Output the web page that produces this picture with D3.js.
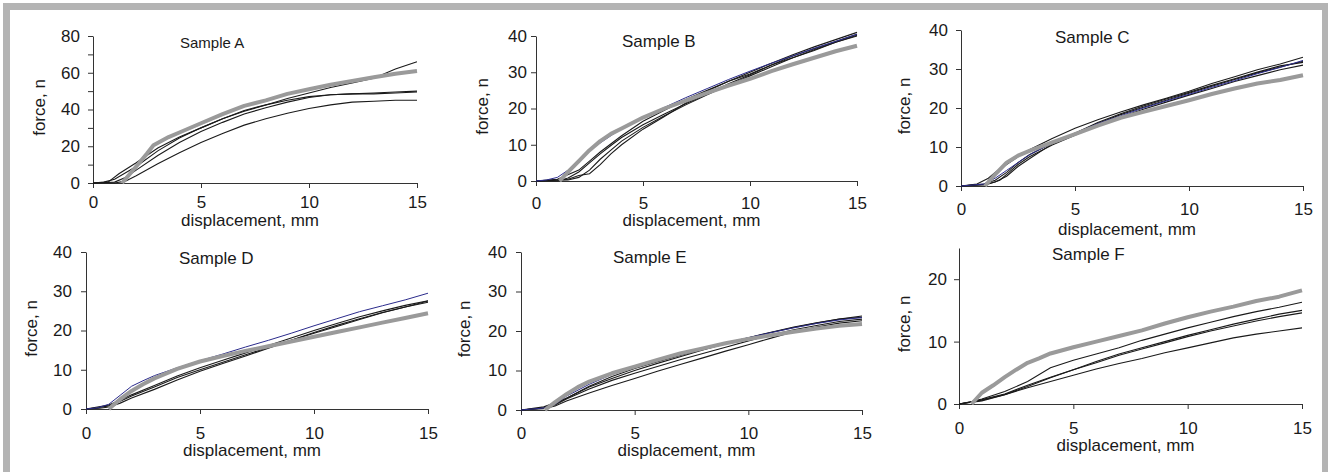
<!DOCTYPE html>
<html>
<head>
<meta charset="utf-8">
<script src="https://cdn.jsdelivr.net/npm/d3@7"></script>
<style>
  body { margin: 0; background: #fff; }
  svg { display: block; font-family: "Liberation Sans", Arial, sans-serif; }
</style>
</head>
<body>
<svg id="chart" width="1328" height="472"></svg>
<script>
// tick values
const xTicks = [0, 5, 10, 15];
const yTicksA = [0, 10, 20, 30, 40, 50, 60, 70, 80];
const yLabelsA = [0, 20, 40, 60, 80];
const yTicks40 = [0, 10, 20, 30, 40];
const yTicksF = [0, 10, 20];

// Sample A
const aGray = [[1.35,0],[2,9],[2.5,16],[2.8,20.5],[3.5,25],[4,27.5],[5,32.5],[6,37.5],[7,42],[8,45],[9,48.5],[10,51],[11,53.5],[12,55.5],[13,57.5],[14,59.5],[15,61]];
const aLine1 = [[0,0],[0.7,0.5],[1.2,5],[2,11],[3,19],[4,25],[5,30],[6,35],[7,39],[8,42.5],[9,46],[10,49],[11,52],[12,54.5],[13,57],[14,62],[15,66]];
const aLine2 = [[0,0],[1,0.5],[1.5,3],[2,7],[3,15],[4,22],[5,28],[6,33],[7,37.5],[8,41],[9,44],[10,46.5],[11,48],[12,48.5],[13,49],[14,49.5],[15,50]];
const aLine3 = [[0,0],[0.5,0.5],[1,2],[2,9],[3,17.5],[4,24.5],[5,30],[6,35],[7,39.5],[8,42.5],[9,45],[10,47],[11,48],[12,48.5],[13,48.5],[14,49],[15,49.5]];
const aLine4 = [[0,0],[1,0],[1.5,1],[2,4],[3,10.5],[4,16.5],[5,22],[6,27],[7,31.5],[8,35],[9,38],[10,40.5],[11,42.5],[12,44],[13,44.5],[14,45],[15,45]];

// Sample B
const bGray = [[1.1,0],[1.5,2.5],[2,5.5],[2.5,8.5],[3,11],[3.5,13],[4,14.5],[5,17.5],[6,20],[7,22.2],[8,24.3],[9,26.3],[10,28.2],[11,30.3],[12,32.2],[13,34],[14,35.8],[15,37.3]];
const bBlue = [[0,0],[0.5,0.3],[1,1],[1.5,3],[2,6],[2.5,8.5],[3,10.5],[3.5,12.5],[4,14.5],[5,17.5],[6,20.3],[7,23],[8,25.5],[9,28],[10,30.3],[11,32.5],[12,34.5],[13,36.6],[14,38.5],[15,40.5]];
const bLine1 = [[0,0],[1,0],[1.5,0.8],[2,2.5],[2.5,5],[3,7.5],[3.5,9.8],[4,12],[5,15.5],[6,18.5],[7,21.3],[8,24],[9,26.8],[10,29.3],[11,32],[12,34.5],[13,36.5],[14,38.5],[15,40.5]];
const bLine2 = [[0,0],[1.5,0.3],[2,1],[2.5,3],[3,6],[3.5,8.5],[4,11],[5,14.8],[6,18],[7,21],[8,23.8],[9,26.5],[10,29],[11,31.5],[12,34],[13,36.2],[14,38.3],[15,40]];
const bLine3 = [[0,0],[1.5,0.5],[2,1.5],[2.5,2],[3,4.5],[3.5,7.5],[4,10],[5,14.3],[6,17.8],[7,21.5],[8,24.8],[9,27.5],[10,30],[11,32.5],[12,34.8],[13,37],[14,39],[15,41]];
const bLine4 = [[0,0],[1,0.5],[2,3],[2.5,5.5],[3,8],[4,12.5],[5,16.5],[6,19.5],[7,22.5],[8,25],[9,27.5],[10,29.5],[11,32],[12,34],[13,36],[14,38.3],[15,40.2]];

// Sample C
const cGray = [[1.05,0],[1.5,3],[2,6],[2.5,7.8],[3,9],[4,11.2],[5,13.3],[6,15.5],[7,17.5],[8,19],[9,20.5],[10,22],[11,23.6],[12,25],[13,26.3],[14,27.2],[15,28.4]];
const cBlue = [[0,0],[1,0.5],[1.5,2],[2,4],[2.5,6],[3,8],[4,11],[5,13.5],[6,16],[7,18],[8,20],[9,21.8],[10,23.5],[11,25.3],[12,27],[13,28.8],[14,30.4],[15,32.2]];
const cLine1 = [[0,0],[0.7,0.5],[1.2,2],[1.5,3.5],[2,5.5],[2.5,7.5],[3,9.3],[4,12.2],[5,14.8],[6,17],[7,19],[8,20.8],[9,22.5],[10,24.3],[11,26.3],[12,28],[13,29.8],[14,31.3],[15,33]];
const cLine2 = [[0,0],[1,0.5],[1.5,1.5],[2,3.5],[2.5,6],[3,8],[4,11],[5,13.5],[6,16],[7,18.3],[8,20.2],[9,22],[10,23.8],[11,25.6],[12,27.3],[13,29],[14,30.5],[15,32]];
const cLine3 = [[0,0],[1.2,0.5],[1.7,1.5],[2,3],[2.5,5.5],[3,7.5],[4,10.5],[5,13],[6,15.5],[7,17.7],[8,19.7],[9,21.5],[10,23.3],[11,25],[12,26.8],[13,28.3],[14,29.8],[15,31]];
const cLine4 = [[0,0],[1,0.3],[1.5,1],[2,2.5],[2.5,5],[3,7],[4,10.8],[5,13.5],[6,16.3],[7,18.5],[8,20.5],[9,22.3],[10,24],[11,25.8],[12,27.5],[13,29.2],[14,30.8],[15,31.7]];

// Sample D
const dGray = [[1,0],[1.5,2.5],[2,4.6],[2.5,6.3],[3,7.8],[4,10.2],[5,12.1],[6,13.5],[7,14.8],[8,16],[9,17.2],[10,18.4],[11,19.6],[12,20.8],[13,22],[14,23.2],[15,24.4]];
const dBlue = [[0,0],[0.5,0.3],[1,1.2],[1.5,3.5],[2,5.8],[2.5,7.2],[3,8.5],[4,10.5],[5,12.3],[6,14],[7,15.8],[8,17.5],[9,19.3],[10,21.2],[11,23],[12,24.8],[13,26.3],[14,27.8],[15,29.5]];
const dLine1 = [[0,0],[0.5,0.3],[1,0.8],[1.5,2],[2,3.3],[3,5.6],[4,8],[5,10],[6,11.9],[7,13.8],[8,15.7],[9,17.5],[10,19.3],[11,21],[12,22.8],[13,24.5],[14,26],[15,27.5]];
const dLine2 = [[0,0],[0.6,0.2],[1,0.5],[1.5,1.5],[2,2.8],[3,5],[4,7.4],[5,9.6],[6,11.6],[7,13.5],[8,15.5],[9,17.5],[10,19.5],[11,21.3],[12,23],[13,24.6],[14,26],[15,27.2]];
const dLine3 = [[0,0],[0.5,0.5],[1,1],[1.5,2.3],[2,3.6],[3,6],[4,8.4],[5,10.5],[6,12.4],[7,14.3],[8,16.2],[9,18.1],[10,20],[11,21.8],[12,23.5],[13,25],[14,26.4],[15,27.6]];

// Sample E
const eGray = [[1.05,0],[1.5,2],[2,4],[2.5,5.8],[3,7.2],[4,9.3],[5,11],[6,12.7],[7,14.3],[8,15.6],[9,16.9],[10,18],[11,18.9],[12,19.8],[13,20.6],[14,21.3],[15,21.8]];
const eBlue = [[0,0],[1,0.5],[1.5,1.5],[2,3.5],[3,6.5],[4,9],[5,10.8],[6,12.5],[7,14],[8,15.5],[9,17],[10,18.3],[11,19.6],[12,20.8],[13,21.9],[14,22.8],[15,23.4]];
const eLine1 = [[0,0],[1,0.8],[1.5,1.8],[2,3],[3,6],[4,8.5],[5,10.5],[6,12.2],[7,13.8],[8,15.3],[9,16.8],[10,18.2],[11,19.6],[12,20.9],[13,22],[14,23],[15,23.8]];
const eLine2 = [[0,0],[1,0.5],[1.5,1.5],[2,3],[3,5.8],[4,8],[5,10],[6,11.8],[7,13.5],[8,15.2],[9,16.8],[10,18.3],[11,19.7],[12,21],[13,22.1],[14,23],[15,23.5]];
const eLine3 = [[0,0],[1,0.3],[1.5,1],[2,2.3],[3,4.3],[4,6.2],[5,8],[6,9.8],[7,11.5],[8,13.2],[9,14.9],[10,16.5],[11,18.2],[12,19.8],[13,21],[14,22],[15,22.6]];
const eLine4 = [[0,0],[1,0.5],[1.5,1.3],[2,2.8],[3,5.3],[4,7.5],[5,9.3],[6,11],[7,12.7],[8,14.3],[9,15.9],[10,17.5],[11,19],[12,20.3],[13,21.4],[14,22.4],[15,23]];

// Sample F
const fGray = [[0.55,0],[1,1.8],[1.5,3],[2,4.3],[2.5,5.5],[3,6.6],[3.5,7.3],[4,8.1],[5,9.1],[6,10],[7,10.9],[8,11.8],[9,12.9],[10,13.9],[11,14.8],[12,15.6],[13,16.5],[14,17.2],[15,18.2]];
const fLine1 = [[0,0],[0.5,0.3],[1,0.8],[2,2],[3,3.6],[4,5.8],[5,7],[6,8],[7,9],[8,10.2],[9,11.2],[10,12.2],[11,13.1],[12,14],[13,14.8],[14,15.5],[15,16.3]];
const fLine2 = [[0,0],[1,0.6],[2,1.5],[3,2.8],[4,4.2],[5,5.5],[6,6.8],[7,8],[8,9],[9,10],[10,11],[11,11.9],[12,12.8],[13,13.6],[14,14.4],[15,15]];
const fLine3 = [[0,0],[1,0.7],[2,1.6],[3,3],[4,4.3],[5,5.5],[6,6.6],[7,7.8],[8,8.8],[9,9.8],[10,10.8],[11,11.7],[12,12.5],[13,13.3],[14,14],[15,14.6]];
const fLine4 = [[0,0],[1,0.5],[2,1.5],[3,2.6],[4,3.6],[5,4.6],[6,5.6],[7,6.5],[8,7.3],[9,8.2],[10,9],[11,9.8],[12,10.6],[13,11.2],[14,11.7],[15,12.2]];

const BLACK = '#1a1a1a';
const GRAY = '#9a9a9a';
const BLUE = '#2b2b8c';

// layout of each small chart (pixels)
const panels = [
  { title: 'Sample A', yMax: 80, yTicks: yTicksA, yLabels: yLabelsA,
    left: 93, right: 417, top: 36, bottom: 183, titleX: 180, titleY: 48, titleSize: 15,
    xPad: 8, yPad: 8, xLabelY: 226, yLabelX: 45,
    black: [aLine1, aLine2, aLine3, aLine4], blue: null, gray: aGray },
  { title: 'Sample B', yMax: 40, yTicks: yTicks40, yLabels: yTicks40,
    left: 536, right: 857, top: 36, bottom: 181, titleX: 622, titleY: 47, titleSize: 17,
    xPad: 11, yPad: 4, xLabelY: 226, yLabelX: 488,
    black: [bLine1, bLine2, bLine3, bLine4], blue: bBlue, gray: bGray },
  { title: 'Sample C', yMax: 40, yTicks: yTicks40, yLabels: yTicks40,
    left: 961, right: 1303, top: 30, bottom: 186, titleX: 1055, titleY: 43, titleSize: 17,
    xPad: 12, yPad: 8, xLabelY: 235, yLabelX: 910,
    black: [cLine1, cLine2, cLine3, cLine4], blue: cBlue, gray: cGray },
  { title: 'Sample D', yMax: 40, yTicks: yTicks40, yLabels: yTicks40,
    left: 86, right: 428, top: 252, bottom: 409, titleX: 179, titleY: 264, titleSize: 17,
    xPad: 13, yPad: 9, xLabelY: 456, yLabelX: 37,
    black: [dLine1, dLine2, dLine3], blue: dBlue, gray: dGray },
  { title: 'Sample E', yMax: 40, yTicks: yTicks40, yLabels: yTicks40,
    left: 521, right: 862, top: 252, bottom: 410, titleX: 613, titleY: 263, titleSize: 17,
    xPad: 12, yPad: 9, xLabelY: 456, yLabelX: 470,
    black: [eLine1, eLine2, eLine3, eLine4], blue: eBlue, gray: eGray },
  { title: 'Sample F', yMax: 25, yTicks: yTicksF, yLabels: yTicksF,
    left: 959, right: 1302, top: 248, bottom: 404, titleX: 1052, titleY: 260, titleSize: 17,
    xPad: 13, yPad: 7, xLabelY: 451, yLabelX: 910,
    black: [fLine1, fLine2, fLine3, fLine4], blue: null, gray: fGray },
];

const svg = d3.select('#chart');

// grey frame
svg.append('rect').attr('x', 3).attr('y', 3).attr('width', 1325).attr('height', 7).attr('fill', '#b4b4b4');
svg.append('rect').attr('x', 3).attr('y', 3).attr('width', 7).attr('height', 469).attr('fill', '#b4b4b4');
svg.append('rect').attr('x', 1322).attr('y', 3).attr('width', 6).attr('height', 469).attr('fill', '#b4b4b4');

panels.forEach(p => {
  const x = d3.scaleLinear().domain([0, 15]).range([p.left, p.right]);
  const y = d3.scaleLinear().domain([0, p.yMax]).range([p.bottom, p.top]);
  const g = svg.append('g');

  const line = d3.line()
    .x(d => x(d[0]))
    .y(d => y(d[1]));

  // y axis
  const yAxis = g.append('g')
    .attr('transform', `translate(${p.left},0)`)
    .call(d3.axisLeft(y)
      .tickValues(p.yTicks)
      .tickSize(5)
      .tickSizeOuter(0)
      .tickPadding(p.yPad)
      .tickFormat(d => p.yLabels.includes(d) ? d : ''));

  // x axis
  const xAxis = g.append('g')
    .attr('transform', `translate(0,${p.bottom})`)
    .call(d3.axisBottom(x)
      .tickValues(xTicks)
      .tickSize(5)
      .tickSizeOuter(0)
      .tickPadding(p.xPad));

  [yAxis, xAxis].forEach(ax => {
    ax.selectAll('path, line').attr('stroke', '#333').attr('stroke-width', 1);
    ax.selectAll('text')
      .attr('fill', '#1a1a1a')
      .style('font-size', '17px')
      .style('font-family', '"Liberation Sans", Arial, sans-serif');
  });

  // curves
  p.black.forEach(s => {
    g.append('path').datum(s)
      .attr('d', line)
      .attr('fill', 'none')
      .attr('stroke', BLACK)
      .attr('stroke-width', 1.1);
  });
  if (p.blue) {
    g.append('path').datum(p.blue)
      .attr('d', line)
      .attr('fill', 'none')
      .attr('stroke', BLUE)
      .attr('stroke-width', 1);
  }
  g.append('path').datum(p.gray)
    .attr('d', line)
    .attr('fill', 'none')
    .attr('stroke', GRAY)
    .attr('stroke-width', 4)
    .attr('stroke-linejoin', 'round');

  // labels
  g.append('text')
    .attr('x', p.titleX)
    .attr('y', p.titleY)
    .attr('fill', '#1a1a1a')
    .style('font-size', p.titleSize + 'px')
    .text(p.title);

  g.append('text')
    .attr('x', (p.left + p.right) / 2 - 5)
    .attr('y', p.xLabelY)
    .attr('text-anchor', 'middle')
    .attr('fill', '#1a1a1a')
    .style('font-size', '17px')
    .text('displacement, mm');

  g.append('text')
    .attr('transform', `translate(${p.yLabelX},${(p.top + p.bottom) / 2 - 2}) rotate(-90)`)
    .attr('text-anchor', 'middle')
    .attr('fill', '#1a1a1a')
    .style('font-size', '17px')
    .text('force, n');
});
</script>
</body>
</html>
